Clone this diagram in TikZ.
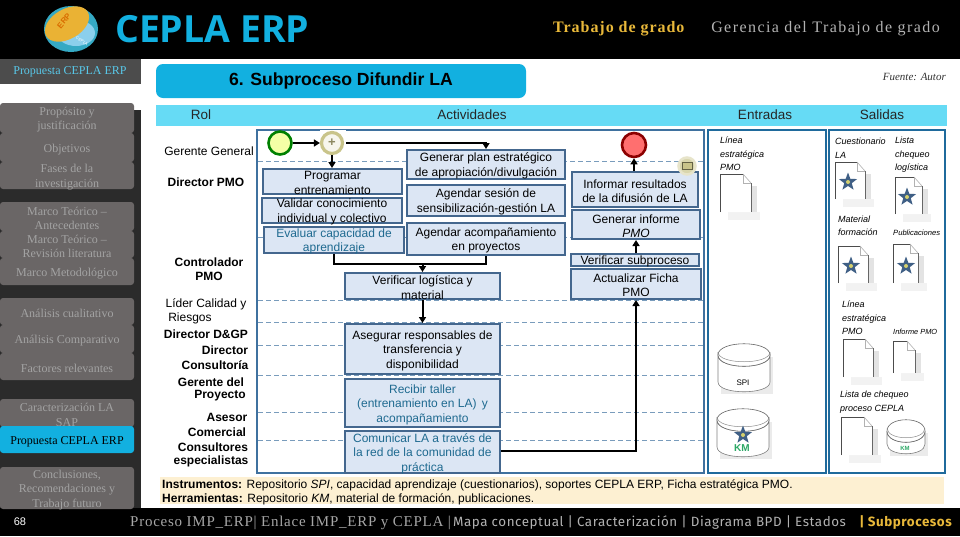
\documentclass[tikz,border=0pt]{standalone}
\usepackage{fontspec}
\setmainfont{Liberation Sans}
\newfontfamily\serfont{Liberation Serif}
\newfontfamily\topserfont[LetterSpace=9]{Liberation Serif}
\newfontfamily\topserbold[LetterSpace=6]{Liberation Serif Bold}
\newfontfamily\navserfont[LetterSpace=5]{Liberation Serif}
\newfontfamily\navfont[LetterSpace=4]{Fira Sans}
\newfontfamily\titlefont{Open Sans}
\usetikzlibrary{fit,shapes.geometric,arrows.meta,calc}
\definecolor{boxfill}{HTML}{DCE6F4}
\definecolor{boxline}{HTML}{44678E}
\definecolor{frameblue}{HTML}{3F719F}
\definecolor{panelblue}{HTML}{1F6A9C}
\definecolor{band}{HTML}{66DBF5}
\definecolor{headblue}{HTML}{12B0E0}
\definecolor{sidegray}{HTML}{6A6666}
\definecolor{sidedark}{HTML}{2B2B2B}
\definecolor{sidetext}{HTML}{A3A3A3}
\definecolor{tealtext}{HTML}{1F6A90}
\definecolor{gold}{HTML}{E8B83A}
\definecolor{cream}{HTML}{FDF0D2}
\definecolor{starblue}{HTML}{3F5F85}
\definecolor{kmgreen}{HTML}{2CA866}
\definecolor{khaki}{HTML}{C9C48A}
\definecolor{logoring}{HTML}{35A9C4}
\tikzset{
  sq/.style={fit={#1},inner sep=0pt,rectangle},
  procbox/.style={draw=boxline,fill=boxfill,line width=2pt},
  proctext/.style={align=center,inner sep=0pt,yshift=-1.5pt,font=\fontsize{12}{14.4}\selectfont},
  teal/.style={text=tealtext},
  flow/.style={draw=black,line width=2pt,-{Triangle[length=6pt,width=7pt]}},
  flowplain/.style={draw=black,line width=2pt},
  lane/.style={draw=frameblue!70,line width=.8pt,dash pattern=on 5pt off 3pt},
  rolet/.style={inner sep=0pt,font=\fontsize{12}{14}\selectfont,text=black},
  roleb/.style={rolet,font=\fontsize{12}{14}\selectfont\bfseries},
  sidebtn/.style={fill=sidegray,rounded corners=3pt,draw=none},
  sidet/.style={align=center,inner sep=0pt,text=sidetext,font=\serfont\fontsize{12}{14.5}\selectfont},
  doct/.style={anchor=west,align=left,inner sep=0pt,font=\fontsize{9}{13.5}\itshape\selectfont,text=black},
  panel/.style={draw=panelblue,line width=2.4pt,fill=white},
  bandt/.style={inner sep=0pt,font=\fontsize{13.5}{16}\selectfont,text=black!85},
  event/.style={circle,line width=2.6pt,inner sep=0pt,minimum size=23pt},
}
% name x1 y1 x2 y2 style text
\newcommand{\pbox}[7]{%
  \node[sq={(#2,#3)(#4,#5)},procbox] (#1) {};
  \node[proctext,#6] (#1-t) at (#1.center) {#7};}
\newcommand{\sbtn}[6]{% name y1 y2 fill text-colour text
  \node[sq={(0,#2)(134,#3)},sidebtn,fill=#4] (#1) {};
  \node[sidet,text=#5] (#1-t) at (67,{(#2+#3)/2+1.8}) {#6};}
\newcommand{\docicon}[5]{% name x1 y1 x2 y2
  \fill[black!11] (#2+8,#3+12) rectangle (#4+6,#5+5);
  \fill[black!5] (#2+8,#5) rectangle (#4+9,#5+8);
  \node[sq={(#2,#3)(#4,#5)}] (#1) {};
  \fill[white] (#2,#3) -- (#4-8,#3) -- (#4,#3+9) -- (#4,#5) -- (#2,#5) -- cycle;
  \draw[black!70,line width=.6pt] (#2,#5) -- (#2,#3) -- (#4-8,#3);
  \draw[black!30,line width=.6pt] (#4-8,#3) -- (#4-8,#3+9) -- (#4,#3+9);
  \draw[black!30,line width=.6pt] (#4-8,#3) -- (#4,#3+9);
  \draw[black!60,line width=.6pt] (#4,#3+9) -- (#4,#5);}
\newcommand{\stariconat}[3]{% name x y
  \node[star,star points=5,star point ratio=2.4,fill=starblue,inner sep=0pt,minimum size=19pt] (#1) at (#2,#3) {};
  \fill[khaki!80!yellow] (#2,#3) circle (2pt);}
\newcommand{\cyl}[5]{% name x1 y1 x2 y2
  \node[sq={(#2,#3)(#4,#5)}] (#1) {};
  \fill[black!8] (#2+3,#3+14) rectangle (#4+3,#5);
  \path[fill=white,draw=black!50,line width=.6pt]
    (#2,#3+12) -- (#2,#5-12) .. controls (#2,#5+1) and (#4,#5+1) .. (#4,#5-12) -- (#4,#3+12)
    .. controls (#4,#3+27) and (#2,#3+27) .. (#2,#3+12) -- cycle;
  \path[fill=white,draw=black!60,line width=.6pt]
    (#2,#3+12) .. controls (#2,#3-3) and (#4,#3-3) .. (#4,#3+12)
    .. controls (#4,#3+27) and (#2,#3+27) .. (#2,#3+12) -- cycle;
  \draw[black!45,line width=.5pt] (#2,#3+9) .. controls (#2,#3+22) and (#4,#3+22) .. (#4,#3+9);}
\begin{document}
\begin{tikzpicture}[x=1pt,y=-1pt]
\useasboundingbox (0,0) rectangle (960,536);
\fill[white] (0,0) rectangle (960,536);
% bars
\fill[black] (0,0) rectangle (960,59);
\fill[black] (0,508) rectangle (960,536);
% sidebar
\fill[sidedark] (0,110) rectangle (141,508);
\node[sq={(0,59)(141,84)},fill=black!70] (sidehead) {};
\node[sidet,text=headblue!70!white] (sidehead-t) at (70,72) {Propuesta CEPLA ERP};
\sbtn{b1}{103}{133}{sidegray}{sidetext}{Propósito y\\justificación}
\sbtn{b2}{133}{162}{sidegray}{sidetext}{Objetivos}
\sbtn{b3}{162}{189}{sidegray}{sidetext}{Fases de la\\investigación}
\sbtn{b4}{202}{231}{sidegray}{sidetext}{Marco Teórico –\\Antecedentes}
\sbtn{b5}{231}{258}{sidegray}{sidetext}{Marco Teórico –\\Revisión literatura}
\sbtn{b6}{258}{285}{sidegray}{sidetext}{Marco Metodológico}
\sbtn{b7}{298}{325}{sidegray}{sidetext}{Análisis cualitativo}
\sbtn{b8}{325}{353}{sidegray}{sidetext}{Análisis Comparativo}
\sbtn{b9}{353}{380}{sidegray}{sidetext}{Factores relevantes}
\sbtn{b10}{399}{427}{sidegray}{sidetext}{Caracterización LA\\SAP}
\sbtn{b11}{426}{453}{headblue}{black}{Propuesta CEPLA ERP}
\sbtn{b12}{467}{509}{sidegray}{sidetext}{Conclusiones,\\Recomendaciones y\\Trabajo futuro}
% logo
\fill[logoring] (71,29) ellipse [x radius=27,y radius=23];
\fill[white!60!cyan!80!logoring] (76,33) ellipse [x radius=19,y radius=13];
\node[ellipse,rotate=30,fill=gold!90!orange,minimum width=48pt,minimum height=30pt,inner sep=0pt] (logopill) at (67,24) {};
\node[rotate=50,inner sep=0pt,text=orange!85!black,font=\bfseries\fontsize{8}{8}\selectfont] (logotext) at (64,21) {ERP};
\node[rotate=-30,inner sep=0pt,text=white,font=\fontsize{4}{4}\selectfont] (logosub) at (82,41) {CEPLA};
\node[anchor=west,inner sep=0pt,text=headblue,font=\titlefont\bfseries\fontsize{37.4}{38}\selectfont] (maintitle) at (115,29) {CEPLA ERP};
% top right
\node[anchor=west,inner sep=0pt,text=gold,font=\topserbold\fontsize{16}{16}\selectfont] (tg) at (553,29) {Trabajo de grado};
\node[anchor=east,inner sep=0pt,text=black!30,font=\topserfont\fontsize{16}{16}\selectfont] (gtg) at (940,29) {Gerencia del Trabajo de grado};
% header
\node[sq={(156,64)(526,98)},fill=headblue,rounded corners=7pt] (subhead) {};
\node[inner sep=0pt,text=black,font=\bfseries\fontsize{17.6}{18}\selectfont] (subhead-t) at (341,81) {6. Subproceso Difundir LA};
\node[anchor=east,inner sep=0pt,font=\serfont\itshape\fontsize{11}{12}\selectfont,text=black!80] (fuente) at (946,77) {Fuente: Autor};
% band
\node[sq={(156,105)(947,126)},fill=band] (bandbar) {};
\node[bandt] (h1) at (201,115) {Rol};
\node[bandt] (h2) at (472,115) {Actividades};
\node[bandt] (h3) at (765,115) {Entradas};
\node[bandt] (h4) at (882,115) {Salidas};
% roles
\node[rolet] (r1) at (209,151) {Gerente General};
\node[roleb] (r2) at (206,182) {Director PMO};
\node[roleb] (r3) at (209,262) {Controlador};
\node[roleb] (r3b) at (209,276) {PMO};
\node[rolet] (r4) at (206,304) {Líder Calidad y};
\node[rolet] (r4b) at (190,318) {Riesgos};
\node[roleb] (r5) at (206,334) {Director D\&GP};
\node[roleb] (r6) at (225,350) {Director};
\node[roleb] (r6b) at (215,365) {Consultoría};
\node[roleb] (r7) at (211,382) {Gerente del};
\node[roleb] (r7b) at (220,396) {Proyecto};
\node[roleb] (r8) at (227,417) {Asesor};
\node[roleb] (r8b) at (217,432) {Comercial};
\node[roleb] (r9) at (213,447) {Consultores};
\node[roleb] (r9b) at (211,461) {especialistas};
% process frame
\node[sq={(257,130)(704,473)},draw=frameblue,line width=2pt,fill=white] (frame) {};
\foreach \y in {161,237,300,322,345,375,412,440}
  \draw[lane] (258,\y) -- (703,\y);
% boxes
\pbox{a1}{263}{169}{402}{194}{}{Programar\\entrenamiento}
\pbox{a2}{262}{198}{402}{223}{}{Validar conocimiento\\individual y colectivo}
\pbox{a3}{264}{227}{404}{253}{teal}{Evaluar capacidad de\\aprendizaje}
\pbox{a4}{407}{150}{565}{179}{}{Generar plan estratégico\\de apropiación/divulgación}
\pbox{a5}{407}{185}{565}{216}{}{Agendar sesión de\\sensibilización-gestión LA}
\pbox{a6}{407}{223}{565}{255}{}{Agendar acompañamiento\\en proyectos}
\pbox{a7}{345}{273}{500}{299}{}{Verificar logística y\\material}
\pbox{a8}{345}{324}{500}{374}{}{Asegurar responsables de\\transferencia y\\disponibilidad}
\pbox{a9}{345}{379}{500}{427}{teal}{Recibir taller\\(entrenamiento en LA)\, y\\acompañamiento}
\pbox{a10}{345}{431}{500}{473}{teal}{Comunicar LA a través de\\la red de la comunidad de\\práctica}
\pbox{a11}{572}{172}{698}{207}{}{Informar resultados\\de la difusión de LA}
\pbox{a12}{572}{210}{700}{239}{}{Generar informe\\\textit{PMO}}
\pbox{a13}{571}{254}{699}{266}{}{Verificar subproceso}
\pbox{a14}{571}{269}{701}{299}{}{Actualizar Ficha\\PMO}
% events
\node[event,draw=green!50!black,fill=green!12!yellow!35!white] (start) at (280,143) {};
\fill[white] (320,130) rectangle (346,156);
\node[circle,fill=white!85!khaki,draw=khaki,line width=3.2pt,minimum size=21pt,inner sep=0pt] (gw) at (332,143) {};
\node[inner sep=0pt,text=khaki!70!black,font=\bfseries\fontsize{13}{13}\selectfont] (gwp) at (332,143) {+};
\node[event,draw=red!55!black,fill=red!60!white!90!pink,minimum size=24pt] (endev) at (634,145) {};
\node[circle,fill=khaki!70!white,draw=khaki!45!white,line width=2.5pt,minimum size=17pt,inner sep=0pt] (msg) at (687,166) {};
\draw[khaki!50!black,fill=khaki,line width=.5pt] (682,162.5) rectangle (692,169.5);
% connectors
\coordinate (j1) at ($(a3.south)+(0,10)$);
\draw[flow] (start) -- (gw);
\draw[flow] (gw.east) ++(2,0) -| (a4.north);
\draw[flow] (gw.south) -- (gw.south |- a1.north);
\draw[flowplain] (a3.south) |- (a7.north |- j1) -| (a6.south);
\draw[flow] (a7.north |- j1) -- (a7.north);
\draw[flow] (a7.south) -- (a8.north);
\coordinate (k1) at (636,451);
\draw[flow] (a10.east |- k1) -- (k1) -- (k1 |- a14.south);
\draw[flow] (a13.north -| k1) -- (k1 |- a12.south);
\draw[flow] (a11.north -| endev) -- (endev.south);
% panels
\node[sq={(708,130)(826,473)},panel] (pin) {};
\node[sq={(829,130)(945,473)},panel] (pout) {};
% entradas
\node[doct] (t1) at (720,154) {Línea\\estratégica\\PMO};
\docicon{d1}{720}{174}{751}{212}
\cyl{c1}{718}{343}{770}{394}
\node[inner sep=0pt,font=\fontsize{8}{8}\selectfont] (c1-t) at (743,383) {SPI};
\cyl{c2}{717}{408}{769}{459}
\stariconat{s5}{743}{435}
\node[inner sep=0pt,text=kmgreen,font=\bfseries\fontsize{10}{10}\selectfont] (c2-t) at (742,448) {KM};
% salidas
\node[doct] (t2) at (835,148) {Cuestionario\\LA};
\docicon{d2}{835}{162}{865}{199}
\stariconat{s1}{848}{182}
\node[doct] (t3) at (895,155) {Lista\\chequeo\\logística};
\docicon{d3}{895}{177}{922}{214}
\stariconat{s2}{907}{197}
\node[doct] (t4) at (838,226) {Material\\formación};
\docicon{d4}{838}{246}{868}{283}
\stariconat{s3}{851}{266}
\node[doct,font=\fontsize{7.6}{13.5}\itshape\selectfont] (t5) at (893,233) {Publicaciones};
\docicon{d5}{893}{244}{918}{283}
\stariconat{s4}{906}{266}
\node[doct] (t6) at (842,318) {Línea\\estratégica\\PMO};
\docicon{d6}{843}{339}{873}{377}
\node[doct,font=\fontsize{7.4}{13.5}\itshape\selectfont] (t7) at (893,332) {Informe PMO};
\docicon{d7}{893}{341}{915}{373}
\node[doct] (t8) at (840,402) {Lista de chequeo\\proceso CEPLA};
\docicon{d8}{841}{417}{872}{455}
\cyl{c3}{887}{419}{925}{456}
\node[inner sep=0pt,text=kmgreen,font=\bfseries\fontsize{6}{6}\selectfont] (c3-t) at (905,448) {KM};
% notes
\node[sq={(160,477)(944,504)},fill=cream] (notes) {};
\node[anchor=west,inner sep=0pt,font=\fontsize{12}{14}\selectfont] (n1) at (162,485) {\textbf{Instrumentos:} Repositorio \textit{SPI}, capacidad aprendizaje (cuestionarios), soportes CEPLA ERP, Ficha estratégica PMO.};
\node[anchor=west,inner sep=0pt,font=\fontsize{12}{14}\selectfont] (n2) at (162,499) {\textbf{Herramientas:} Repositorio \textit{KM}, material de formación, publicaciones.};
% footer
\node[inner sep=0pt,text=white,font=\fontsize{11}{11}\selectfont] (pagenum) at (20,522) {68};
\node[anchor=west,inner sep=0pt,text=black!35,font=\navserfont\fontsize{15}{15}\selectfont] (nav1) at (130,523) {Proceso IMP\_ERP| Enlace IMP\_ERP y CEPLA |};
\node[anchor=west,inner sep=0pt,text=black!30,font=\navfont\fontsize{13.4}{13}\selectfont] (nav2) at (453,523) {Mapa conceptual | Caracterización | Diagrama BPD | Estados};
\node[anchor=east,inner sep=0pt,text=gold,font=\navfont\bfseries\fontsize{13.4}{13}\selectfont] (nav3) at (952,523) {| Subprocesos};
\end{tikzpicture}
\end{document}
